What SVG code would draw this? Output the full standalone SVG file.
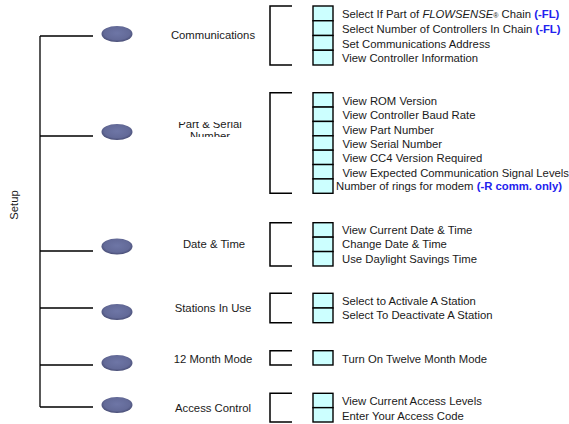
<svg xmlns="http://www.w3.org/2000/svg" width="569" height="424" viewBox="0 0 569 424">
<style>
text{font-family:"Liberation Sans",Arial,sans-serif;font-size:11.3px;fill:#1a1a1a}
.tree{stroke:#000;stroke-width:1.3;fill:none}
.br{stroke:#000;stroke-width:1.5;fill:none}
.cell{fill:#ccffff;stroke:#000;stroke-width:1.4}
.lbl{text-anchor:middle}
.hl{font-weight:bold;fill:#2222ee}
</style>
<defs>
<radialGradient id="g" cx="0.5" cy="0.45" r="0.55">
<stop offset="0" stop-color="#6e76a6"/>
<stop offset="0.75" stop-color="#636a98"/>
<stop offset="1" stop-color="#464b73"/>
</radialGradient>
<clipPath id="clipPS"><rect x="150" y="122" width="110" height="15"/></clipPath>
</defs>
<rect width="569" height="424" fill="#fff"/>
<text transform="translate(18,205) rotate(-90)" class="lbl">Setup</text>
<g id="connectors">
<path class="tree" d="M40,36V407M40,36H93M40,136H93M40,251H93M40,308H93M40,365H93M40,407H93"/>
</g>
<g id="communications">
<ellipse cx="117" cy="34" rx="15.5" ry="8" fill="url(#g)"/>
<text x="213" y="39" class="lbl">Communications</text>
<path class="br" d="M292,6H270V65H292"/>
<rect class="cell" x="313" y="6" width="20" height="14.75"/>
<rect class="cell" x="313" y="20.75" width="20" height="14.75"/>
<rect class="cell" x="313" y="35.5" width="20" height="14.75"/>
<rect class="cell" x="313" y="50.25" width="20" height="14.75"/>
<text x="342" y="18">Select If Part of <tspan font-style="italic">FLOWSENSE</tspan><tspan font-size="7">®</tspan> Chain <tspan class="hl">(-FL)</tspan></text>
<text x="342" y="32.5">Select Number of Controllers In Chain <tspan class="hl">(-FL)</tspan></text>
<text x="342" y="47.5">Set Communications Address</text>
<text x="342" y="62">View Controller Information</text>
</g>
<g id="part-serial">
<ellipse cx="117" cy="132" rx="15.5" ry="8" fill="url(#g)"/>
<g clip-path="url(#clipPS)">
<text x="210" y="128" class="lbl">Part &amp; Serial</text>
<text x="210" y="140" class="lbl">Number</text>
</g>
<path class="br" d="M292,92.7H270V193.3H292"/>
<rect class="cell" x="313" y="92.7" width="20" height="14.37"/>
<rect class="cell" x="313" y="107.07" width="20" height="14.37"/>
<rect class="cell" x="313" y="121.44" width="20" height="14.37"/>
<rect class="cell" x="313" y="135.81" width="20" height="14.37"/>
<rect class="cell" x="313" y="150.18" width="20" height="14.37"/>
<rect class="cell" x="313" y="164.55" width="20" height="14.37"/>
<rect class="cell" x="313" y="178.92" width="20" height="14.37"/>
<text x="342.5" y="105">View ROM Version</text>
<text x="342.5" y="119">View Controller Baud Rate</text>
<text x="342.5" y="133.5">View Part Number</text>
<text x="342.5" y="148">View Serial Number</text>
<text x="342.5" y="162">View CC4 Version Required</text>
<text x="342.5" y="176.5">View Expected Communication Signal Levels</text>
<text x="336" y="190">Number of rings for modem <tspan class="hl">(-R comm. only)</tspan></text>
</g>
<g id="date-time">
<ellipse cx="117" cy="246.5" rx="15.5" ry="8" fill="url(#g)"/>
<text x="214" y="248" class="lbl">Date &amp; Time</text>
<path class="br" d="M292,222.7H270V266H292"/>
<rect class="cell" x="313" y="222.7" width="20" height="14.43"/>
<rect class="cell" x="313" y="237.13" width="20" height="14.43"/>
<rect class="cell" x="313" y="251.56" width="20" height="14.43"/>
<text x="342" y="234">View Current Date &amp; Time</text>
<text x="342" y="248">Change Date &amp; Time</text>
<text x="342" y="262.5">Use Daylight Savings Time</text>
</g>
<g id="stations">
<ellipse cx="117" cy="312" rx="15.5" ry="8" fill="url(#g)"/>
<text x="213" y="312" class="lbl">Stations In Use</text>
<path class="br" d="M292,293.3H270V322.7H292"/>
<rect class="cell" x="313" y="293.3" width="20" height="14.7"/>
<rect class="cell" x="313" y="308" width="20" height="14.7"/>
<text x="342" y="304.5">Select to Activale A Station</text>
<text x="342" y="319">Select To Deactivate A Station</text>
</g>
<g id="twelve-month">
<ellipse cx="117" cy="363" rx="15.5" ry="8" fill="url(#g)"/>
<text x="213" y="363" class="lbl">12 Month Mode</text>
<path class="br" d="M292,350.7H270V365H292"/>
<rect class="cell" x="313" y="350.7" width="20" height="14.3"/>
<text x="342" y="363">Turn On Twelve Month Mode</text>
</g>
<g id="access">
<ellipse cx="117" cy="405" rx="15.5" ry="8" fill="url(#g)"/>
<text x="213" y="412" class="lbl">Access Control</text>
<path class="br" d="M292,393.3H270V422H292"/>
<rect class="cell" x="313" y="393.3" width="20" height="14.35"/>
<rect class="cell" x="313" y="407.65" width="20" height="14.35"/>
<text x="342" y="404.5">View Current Access Levels</text>
<text x="342" y="419.5">Enter Your Access Code</text>
</g>
</svg>
